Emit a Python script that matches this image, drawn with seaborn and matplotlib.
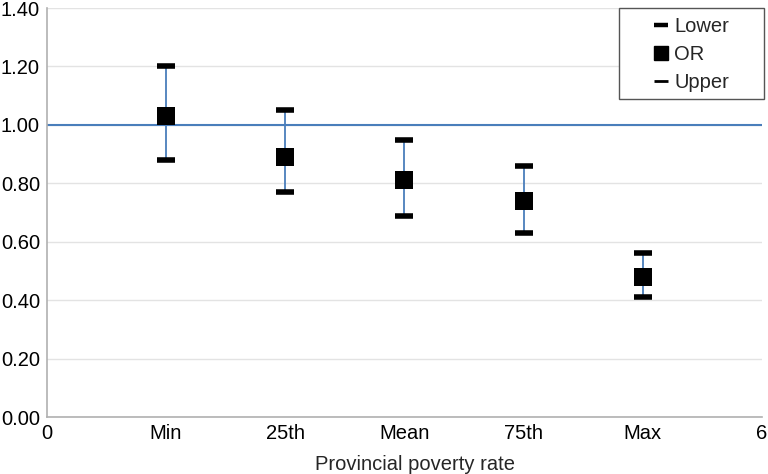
import numpy as np
import matplotlib.pyplot as plt
import seaborn as sns
from matplotlib.lines import Line2D
from matplotlib.patches import Rectangle

# values
positions = [1, 2, 3, 4, 5]
tick_labels = ['0', 'Min', '25th', 'Mean', '75th', 'Max', '6']
odds_ratio = [1.03, 0.89, 0.81, 0.74, 0.48]
lower = [0.88, 0.77, 0.69, 0.63, 0.41]
upper = [1.20, 1.05, 0.95, 0.86, 0.56]

sns.set_style('whitegrid')
plt.rcParams['font.family'] = ['Liberation Sans', 'DejaVu Sans']

fig, ax = plt.subplots(figsize=(7.68, 4.74), dpi=100)
fig.subplots_adjust(left=0.061, right=0.992, top=0.983, bottom=0.12)

blue = '#4a7ebb'

# reference line at OR = 1
ax.axhline(1.0, color=blue, lw=1.5, zorder=2)

# confidence interval lines
ax.vlines(positions, lower, upper, color=blue, lw=1.3, zorder=3)

# lower / upper dashes and OR squares
ax.plot(positions, lower, ls='none', marker='_', ms=12.5, mew=4, color='black', zorder=4)
ax.plot(positions, upper, ls='none', marker='_', ms=12.5, mew=4, color='black', zorder=4)
sns.scatterplot(x=positions, y=odds_ratio, marker='s', s=150, color='black',
                edgecolor='black', linewidth=0, zorder=5, ax=ax)

ax.set_xlim(0, 6)
ax.set_ylim(0, 1.4)
ax.set_xticks(range(7))
ax.set_xticklabels(tick_labels)
ax.set_yticks(np.arange(0, 1.41, 0.2))
ax.set_yticklabels([f'{v:.2f}' for v in np.arange(0, 1.41, 0.2)])
ax.tick_params(axis='both', labelsize=14.5, length=0, pad=5, colors='black')
ax.set_xlabel('Provincial poverty rate', fontsize=14.5)
ax.xaxis.set_label_coords(0.515, -0.093)
ax.set_ylabel('')

ax.grid(axis='x', visible=False)
ax.grid(axis='y', color='#e3e3e3', lw=1)
for side in ['top', 'right']:
    ax.spines[side].set_visible(False)
for side in ['left', 'bottom']:
    ax.spines[side].set_color('#b0b0b0')
    ax.spines[side].set_linewidth(1.2)

# legend box drawn separately so the padding matches the reference
box = Rectangle((0.800, 0.777), 0.203, 0.223, transform=ax.transAxes,
                facecolor='white', edgecolor='#555555', lw=1, clip_on=False, zorder=6)
ax.add_patch(box)

handles = [
    Line2D([], [], ls='none', marker='_', ms=10, mew=3.2, color='black'),
    Line2D([], [], ls='none', marker='s', ms=10, color='black'),
    Line2D([], [], ls='none', marker='_', ms=10, mew=2, color='black'),
]
leg = ax.legend(handles, ['Lower', 'OR', 'Upper'], loc='center',
                bbox_to_anchor=(0.9015, 0.886), fontsize=14.5, frameon=False,
                handlelength=0.7, handletextpad=0.3, borderpad=0,
                labelspacing=0.45)
leg.set_zorder(7)

fig.savefig('out.png', dpi=100)
